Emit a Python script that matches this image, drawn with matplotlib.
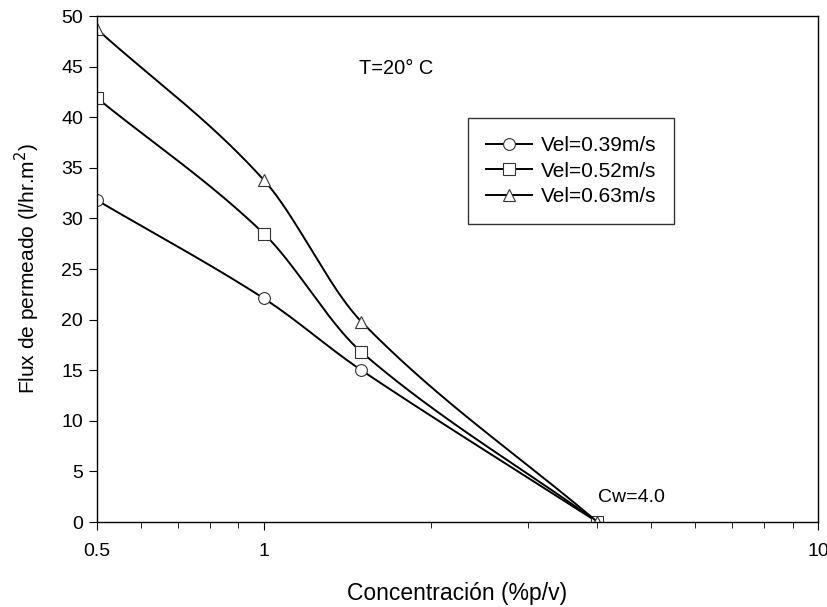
import numpy as np
import matplotlib
matplotlib.use("Agg")
import matplotlib.pyplot as plt
from matplotlib.ticker import FixedLocator, NullFormatter

plt.rcParams['font.family'] = ['Liberation Sans', 'DejaVu Sans']

# data
conc = [0.5, 1.0, 1.5, 4.0]
flux_039 = [31.8, 22.1, 15.0, 0.0]
flux_052 = [41.9, 28.5, 16.8, 0.0]
flux_063 = [48.7, 33.8, 19.8, 0.0]
labels = ['Vel=0.39m/s', 'Vel=0.52m/s', 'Vel=0.63m/s']
markers = ['o', 's', '^']


def smooth(x, y, n=60):
    # cubic hermite through the points (catmull-rom tangents, log x)
    t = np.log10(np.asarray(x, float))
    y = np.asarray(y, float)
    k = len(t)
    m = np.zeros(k)
    m[0] = (y[1] - y[0]) / (t[1] - t[0])
    m[-1] = (y[-1] - y[-2]) / (t[-1] - t[-2])
    for i in range(1, k - 1):
        m[i] = (y[i + 1] - y[i - 1]) / (t[i + 1] - t[i - 1])
    tx, ty = [], []
    for i in range(k - 1):
        h = t[i + 1] - t[i]
        s = np.linspace(0, 1, n)
        h00 = 2 * s**3 - 3 * s**2 + 1
        h10 = s**3 - 2 * s**2 + s
        h01 = -2 * s**3 + 3 * s**2
        h11 = s**3 - s**2
        tx.append(t[i] + s * h)
        ty.append(h00 * y[i] + h10 * h * m[i] + h01 * y[i + 1] + h11 * h * m[i + 1])
    return 10**np.concatenate(tx), np.concatenate(ty)


fig = plt.figure(figsize=(8.28, 6.07), dpi=100)
ax = fig.add_axes([0.1171, 0.140, 0.8708, 0.8336])

for ys, mk, lab in zip([flux_039, flux_052, flux_063], markers, labels):
    xs, sy = smooth(conc, ys)
    ax.plot(xs, sy, color='black', lw=1.4)
    ax.plot(conc, ys, linestyle='none', marker=mk, ms=8.5, mfc='white',
            mec='#333333', mew=0.8)
    # proxy for the legend
    ax.plot([], [], color='black', lw=1.4, marker=mk, ms=8.5, mfc='white',
            mec='#333333', mew=0.8, label=lab)

ax.set_xscale('log')
ax.set_xlim(0.5, 10)
ax.set_ylim(0, 50)
ax.xaxis.set_major_locator(FixedLocator([0.5, 1, 10]))
ax.set_xticklabels(['0.5', '1', '10'])
ax.xaxis.set_minor_locator(FixedLocator([0.6, 0.7, 0.8, 0.9, 2, 3, 4, 5, 6, 7, 8, 9]))
ax.xaxis.set_minor_formatter(NullFormatter())
ax.set_yticks(np.arange(0, 51, 5))

ax.tick_params(which='both', direction='out', top=False, right=False, labelsize=14)
ax.tick_params(which='major', length=6)
ax.tick_params(which='minor', length=4)
ax.tick_params(axis='x', pad=9)
ax.tick_params(axis='y', pad=4)
for s in ax.spines.values():
    s.set_linewidth(1.0)

ax.set_xlabel('Concentración (%p/v)', fontsize=16.5)
ax.xaxis.set_label_coords(0.5, -0.142)
ax.xaxis.label.set_va('center')
ax.set_ylabel('Flux de permeado (l/hr.m$^2$)', fontsize=15)
ax.yaxis.set_label_coords(-0.097, 0.5)
ax.yaxis.label.set_va('center')

ax.text(0.363, 0.897, 'T=20° C', transform=ax.transAxes, fontsize=14.4,
        va='center')
ax.text(0.695, 0.049, 'Cw=4.0', transform=ax.transAxes, fontsize=14,
        va='center')

leg = ax.legend(loc='upper left', bbox_to_anchor=(0.5146, 0.798), fontsize=15,
                frameon=True, fancybox=False, edgecolor='black',
                handlelength=2.2, handletextpad=0.45, borderpad=0.85,
                labelspacing=0.32, borderaxespad=0)
leg.get_frame().set_linewidth(1.0)

fig.savefig('out.png', dpi=100)
